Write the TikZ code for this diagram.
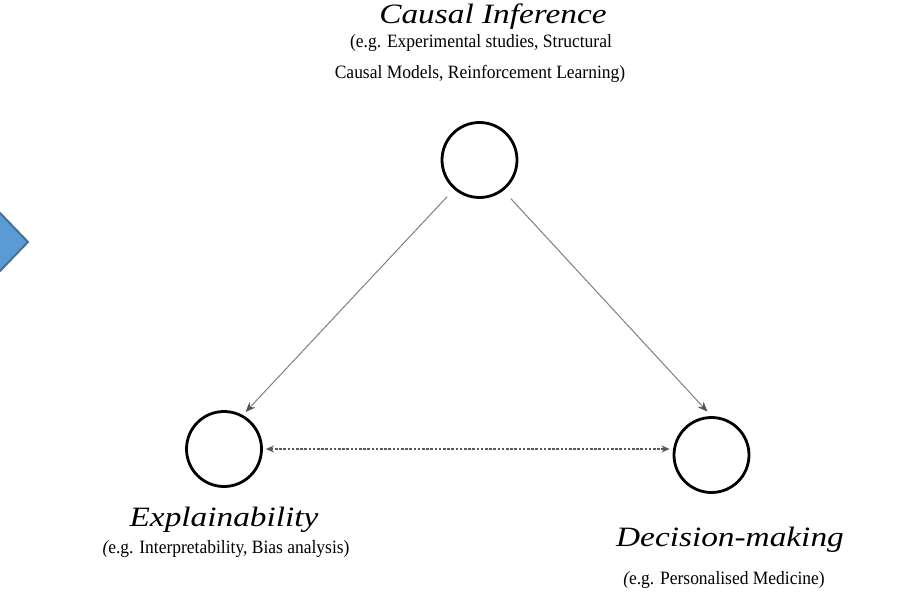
\documentclass[tikz,border=0pt]{standalone}
\usepackage{fontspec}
\setmainfont{Liberation Serif}
\newfontfamily\headfont[FakeStretch=1.19]{Liberation Serif}
\newfontfamily\descfont[FakeStretch=0.93]{Liberation Serif}
\usetikzlibrary{arrows.meta}

\definecolor{chevronfill}{HTML}{5B9BD5}
\definecolor{chevronedge}{HTML}{41719C}
\definecolor{linkgray}{HTML}{808080}
\definecolor{tipgray}{HTML}{555555}
\definecolor{dashgray}{HTML}{5A5A5A}

\tikzset{
  concept/.style={circle, draw=black, line width=2.8pt, minimum size=75pt, inner sep=0pt},
  headtext/.style={anchor=base, inner sep=0pt, font=\headfont\itshape\fontsize{28}{32}\selectfont},
  desctext/.style={anchor=base, inner sep=0pt, font=\descfont\fontsize{18.8}{22}\selectfont},
  link/.style={draw=linkgray, line width=1pt, -{Stealth[length=10pt,width=8pt,color=tipgray]}},
  mutual/.style={draw=dashgray, line width=1.4pt, dash pattern=on 2.6pt off 1.6pt,
    {Stealth[length=8pt,width=7pt]}-{Stealth[length=8pt,width=7pt]}},
}

\begin{document}
\begin{tikzpicture}[x=1pt, y=-1pt]
  \fill[white] (0,0) rectangle (922,599);
  \useasboundingbox (0,0) rectangle (922,599);

  % partly visible blue arrow at the left edge
  \begin{scope}
    \clip (0,0) rectangle (922,599);
    \draw[fill=chevronfill, draw=chevronedge, line width=2pt, line join=miter]
      (-20,213) -- (0,213) -- (28,242) -- (0,271) -- (-20,271) -- cycle;
  \end{scope}

  % the three concepts
  \node[concept] (ci) at (479.5,160) {};
  \node[concept] (ex) at (224,449) {};
  \node[concept] (dm) at (711.5,455) {};

  % labels
  \node[headtext] (ciT) at (493,24) {Causal Inference};
  \node[desctext] (ciA) at (481,48) {(e.g. Experimental studies, Structural};
  \node[desctext] (ciB) at (480,79) {Causal Models, Reinforcement Learning)};

  \node[headtext] (exT) at (224,526) {Explainability};
  \node[desctext] (exA) at (226,553) {{\itshape(}e.g. Interpretability, Bias analysis)};

  \node[headtext] (dmT) at (730,546) {Decision-making};
  \node[desctext] (dmA) at (724,584) {{\itshape(}e.g. Personalised Medicine)};

  % connectors
  \draw[link, shorten <=10pt, shorten >=4pt] (ci.229) -- (ex.61);
  \draw[link, shorten <=11pt, shorten >=6pt] (ci.308) -- (dm.90);
  \draw[mutual, shorten <=3pt, shorten >=3pt] (ex.east) -- (ex.east -| dm.west);
\end{tikzpicture}
\end{document}
